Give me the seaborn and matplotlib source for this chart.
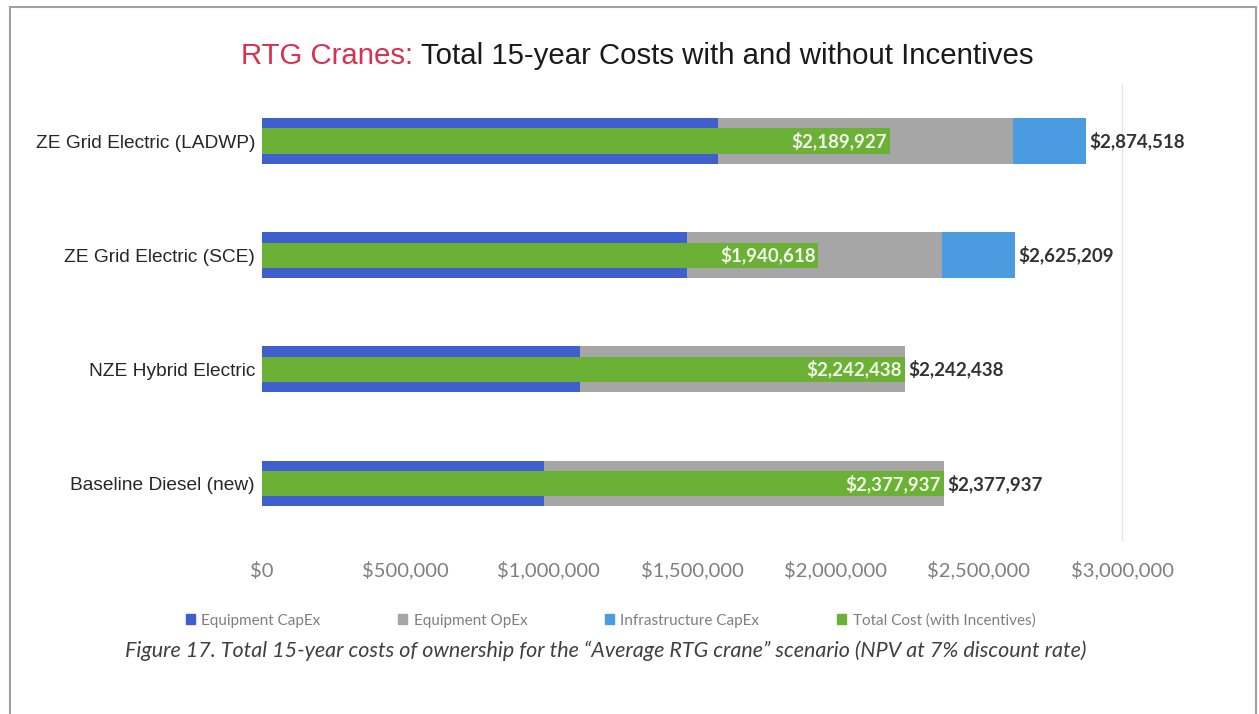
import matplotlib
matplotlib.use("Agg")
import matplotlib.pyplot as plt
from matplotlib.patches import Rectangle, Patch
import numpy as np
import pandas as pd
import seaborn as sns

# Scenario data (USD, NPV over 15 years)
scenarios = ["ZE Grid Electric (LADWP)", "ZE Grid Electric (SCE)",
             "NZE Hybrid Electric", "Baseline Diesel (new)"]
equipment_capex = [1590000, 1482000, 1109000, 984000]
equipment_opex = [1029000, 890000, 1133438, 1393937]
infrastructure_capex = [255518, 253209, 0, 0]
total_cost = [2874518, 2625209, 2242438, 2377937]
total_with_incentives = [2189927, 1940618, 2242438, 2377937]

x_ticks = [0, 500000, 1000000, 1500000, 2000000, 2500000, 3000000]
x_tick_labels = ["$0", "$500,000", "$1,000,000", "$1,500,000",
                 "$2,000,000", "$2,500,000", "$3,000,000"]

c_capex = "#3F5FCF"
c_opex = "#A6A6A6"
c_infra = "#4A9BE0"
c_green = "#6BB135"

df = pd.DataFrame({
    "scenario": scenarios,
    "capex": equipment_capex,
    "opex": equipment_opex,
    "infra": infrastructure_capex,
    "total": total_cost,
    "incent": total_with_incentives,
})
df["cum_opex"] = df["capex"] + df["opex"]
df["cum_infra"] = df["cum_opex"] + df["infra"]

sns.set_theme(style="white")
plt.rcParams["font.family"] = ["Liberation Sans", "DejaVu Sans"]

fig = plt.figure(figsize=(12.59, 7.14), dpi=100)
ax = fig.add_axes([0.2081, 0.2430, 0.6831, 0.6394])

bar_kw = dict(saturation=1, ax=ax, orient="h", linewidth=0, edgecolor="none")
# stacked segments drawn as cumulative overlays, widest first
sns.barplot(data=df, y="scenario", x="cum_infra", color=c_infra, width=0.40, **bar_kw)
sns.barplot(data=df, y="scenario", x="cum_opex", color=c_opex, width=0.40, **bar_kw)
sns.barplot(data=df, y="scenario", x="capex", color=c_capex, width=0.40, **bar_kw)
# total cost after incentives, as a thinner bar on top
sns.barplot(data=df, y="scenario", x="incent", color=c_green, width=0.22, **bar_kw)

label_font = ["Lato", "DejaVu Sans"]
for i, row in df.iterrows():
    ax.text(row["incent"] - 10000, i, f"${row['incent']:,.0f}", ha="right",
            va="center", color="#F2F9EA", fontsize=13.5, fontweight="bold",
            family=label_font)
    ax.text(row["total"] + 12000, i, f"${row['total']:,.0f}", ha="left",
            va="center", color="#333333", fontsize=13.5, fontweight="bold",
            family=label_font)

ax.set_xlim(0, 3000000)
ax.set_ylim(3.5, -0.5)
ax.set_xticks(x_ticks)
ax.set_xticklabels(x_tick_labels, family=label_font, fontsize=14.5,
                   color="#7F7F7F", va="baseline")
ax.tick_params(axis="x", length=0, pad=26)
ax.tick_params(axis="y", length=0, pad=5)
for lbl in ax.get_yticklabels():
    lbl.set_fontsize(13.8)
    lbl.set_color("#262626")
ax.set_xlabel("")
ax.set_ylabel("")
for side in ["top", "left", "bottom"]:
    ax.spines[side].set_visible(False)
ax.spines["right"].set_color("#E6E6E6")
ax.spines["right"].set_linewidth(1)

# title with the two-colour lead-in
title_y = 0.921
lead = fig.text(241 / 1259, title_y, "RTG Cranes:", color="#D9304F", fontsize=21.2,
                ha="left", va="center")
renderer = fig.canvas.get_renderer()
lead_box = lead.get_window_extent(renderer=renderer)
fig.text((lead_box.x1 + 8) / 1259, title_y,
         "Total 15-year Costs with and without Incentives",
         color="#1A1A1A", fontsize=21.2, ha="left", va="center")

handles = [Patch(color=c_capex, label="Equipment CapEx"),
           Patch(color=c_opex, label="Equipment OpEx"),
           Patch(color=c_infra, label="Infrastructure CapEx"),
           Patch(color=c_green, label="Total Cost (with Incentives)")]
leg = fig.legend(handles=handles, loc="center", bbox_to_anchor=(0.485, 0.131),
                 ncol=4, frameon=False, handlelength=0.6, handleheight=0.6,
                 handletextpad=0.4, columnspacing=5.1,
                 prop={"family": label_font, "size": 11})
for t in leg.get_texts():
    t.set_color("#7F7F7F")

fig.text(0.481, 0.089,
         "Figure 17. Total 15-year costs of ownership for the \u201cAverage RTG crane\u201d "
         "scenario (NPV at 7% discount rate)",
         ha="center", va="center", fontsize=15.5, style="italic",
         color="#404040", family=label_font)

# surrounding frame
fig.patches.append(Rectangle((10 / 1259, -0.01), 1246 / 1259, 1 - 7 / 714 + 0.01,
                             transform=fig.transFigure, fill=False,
                             edgecolor="#A0A0A0", linewidth=1.5))

fig.savefig("out.png", dpi=100, facecolor="white")
